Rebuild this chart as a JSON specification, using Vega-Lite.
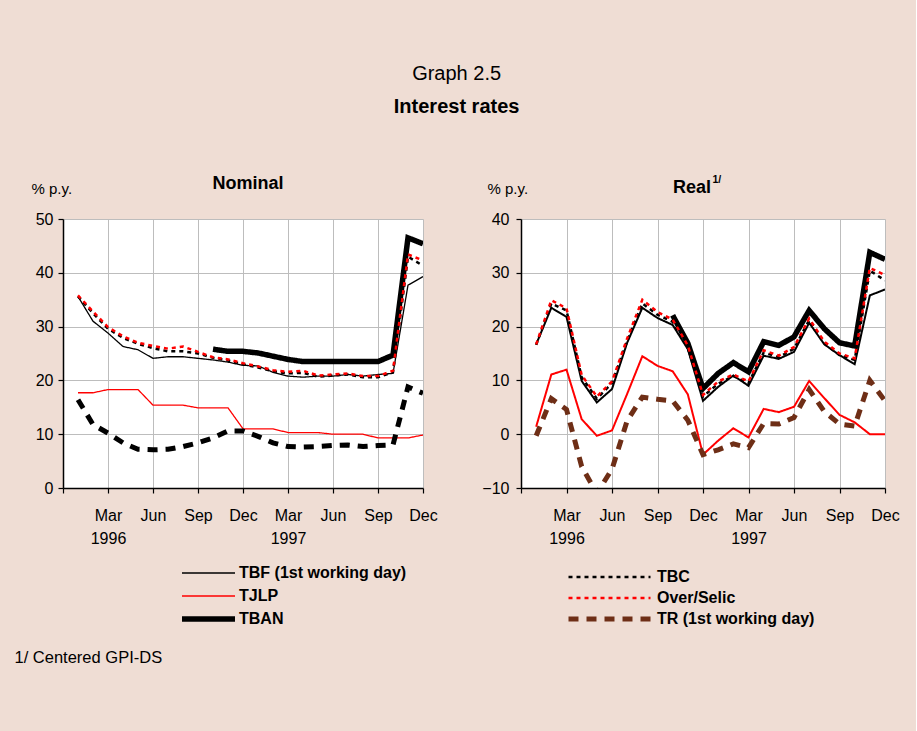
{
  "$schema": "https://vega.github.io/schema/vega-lite/v6.json",
  "background": "#EFDDD4",
  "padding": {"left": 14, "top": 64, "right": 16, "bottom": 67},
  "title": {
    "text": "Graph 2.5",
    "subtitle": "Interest rates",
    "fontSize": 20,
    "fontWeight": "normal",
    "subtitleFontSize": 20,
    "subtitleFontWeight": "bold",
    "subtitleColor": "black",
    "subtitleFont": "Liberation Sans",
    "subtitlePadding": 13,
    "anchor": "middle",
    "offset": 57
  },
  "datasets": {
    "nominal": [
      {"m": 1, "TBF (1st working day)": 35.6, "TJLP": 17.7, "TBAN": null, "TBC": 35.6, "Over/Selic": 35.8, "TR (1st working day)": 16.4},
      {"m": 2, "TBF (1st working day)": 31.0, "TJLP": 17.7, "TBAN": null, "TBC": 32.5, "Over/Selic": 32.8, "TR (1st working day)": 11.8},
      {"m": 3, "TBF (1st working day)": 28.8, "TJLP": 18.3, "TBAN": null, "TBC": 29.6, "Over/Selic": 29.9, "TR (1st working day)": 10.2},
      {"m": 4, "TBF (1st working day)": 26.3, "TJLP": 18.3, "TBAN": null, "TBC": 27.9, "Over/Selic": 28.2, "TR (1st working day)": 8.4},
      {"m": 5, "TBF (1st working day)": 25.7, "TJLP": 18.3, "TBAN": null, "TBC": 26.8, "Over/Selic": 27.0, "TR (1st working day)": 7.2},
      {"m": 6, "TBF (1st working day)": 24.1, "TJLP": 15.4, "TBAN": null, "TBC": 26.0, "Over/Selic": 26.4, "TR (1st working day)": 7.1},
      {"m": 7, "TBF (1st working day)": 24.4, "TJLP": 15.4, "TBAN": null, "TBC": 25.4, "Over/Selic": 25.9, "TR (1st working day)": 7.2},
      {"m": 8, "TBF (1st working day)": 24.4, "TJLP": 15.4, "TBAN": null, "TBC": 25.4, "Over/Selic": 26.3, "TR (1st working day)": 7.7},
      {"m": 9, "TBF (1st working day)": 24.1, "TJLP": 14.9, "TBAN": null, "TBC": 25.0, "Over/Selic": 25.3, "TR (1st working day)": 8.4},
      {"m": 10, "TBF (1st working day)": 23.8, "TJLP": 14.9, "TBAN": 25.8, "TBC": 24.2, "Over/Selic": 24.3, "TR (1st working day)": 9.3},
      {"m": 11, "TBF (1st working day)": 23.4, "TJLP": 14.9, "TBAN": 25.4, "TBC": 23.7, "Over/Selic": 23.9, "TR (1st working day)": 10.6},
      {"m": 12, "TBF (1st working day)": 22.8, "TJLP": 11.0, "TBAN": 25.4, "TBC": 23.0, "Over/Selic": 23.2, "TR (1st working day)": 10.6},
      {"m": 13, "TBF (1st working day)": 22.7, "TJLP": 11.0, "TBAN": 25.1, "TBC": 22.4, "Over/Selic": 22.6, "TR (1st working day)": 9.6},
      {"m": 14, "TBF (1st working day)": 21.5, "TJLP": 11.0, "TBAN": 24.5, "TBC": 21.7, "Over/Selic": 21.9, "TR (1st working day)": 8.4},
      {"m": 15, "TBF (1st working day)": 20.8, "TJLP": 10.3, "TBAN": 23.9, "TBC": 21.3, "Over/Selic": 21.6, "TR (1st working day)": 7.7},
      {"m": 16, "TBF (1st working day)": 20.6, "TJLP": 10.3, "TBAN": 23.5, "TBC": 21.4, "Over/Selic": 21.8, "TR (1st working day)": 7.6},
      {"m": 17, "TBF (1st working day)": 20.8, "TJLP": 10.3, "TBAN": 23.5, "TBC": 20.7, "Over/Selic": 20.9, "TR (1st working day)": 7.7},
      {"m": 18, "TBF (1st working day)": 20.8, "TJLP": 10.0, "TBAN": 23.5, "TBC": 20.9, "Over/Selic": 21.1, "TR (1st working day)": 7.9},
      {"m": 19, "TBF (1st working day)": 21.1, "TJLP": 10.0, "TBAN": 23.5, "TBC": 21.1, "Over/Selic": 21.3, "TR (1st working day)": 8.0},
      {"m": 20, "TBF (1st working day)": 20.8, "TJLP": 10.0, "TBAN": 23.5, "TBC": 20.6, "Over/Selic": 20.8, "TR (1st working day)": 7.7},
      {"m": 21, "TBF (1st working day)": 21.1, "TJLP": 9.3, "TBAN": 23.5, "TBC": 20.6, "Over/Selic": 20.8, "TR (1st working day)": 7.9},
      {"m": 22, "TBF (1st working day)": 21.3, "TJLP": 9.3, "TBAN": 24.7, "TBC": 21.5, "Over/Selic": 21.8, "TR (1st working day)": 8.0},
      {"m": 23, "TBF (1st working day)": 37.7, "TJLP": 9.3, "TBAN": 46.5, "TBC": 43.0, "Over/Selic": 43.4, "TR (1st working day)": 18.8},
      {"m": 24, "TBF (1st working day)": 39.3, "TJLP": 9.85, "TBAN": 45.4, "TBC": 41.3, "Over/Selic": 42.3, "TR (1st working day)": 17.6}
    ],
    "real": [
      {"m": 1, "TBF (1st working day)": 16.7, "TJLP": 1.4, "TBAN": null, "TBC": 16.6, "Over/Selic": 16.7, "TR (1st working day)": -0.3},
      {"m": 2, "TBF (1st working day)": 23.5, "TJLP": 11.1, "TBAN": null, "TBC": 24.3, "Over/Selic": 24.9, "TR (1st working day)": 6.6},
      {"m": 3, "TBF (1st working day)": 21.8, "TJLP": 12.0, "TBAN": null, "TBC": 23.0, "Over/Selic": 23.4, "TR (1st working day)": 4.6},
      {"m": 4, "TBF (1st working day)": 9.9, "TJLP": 2.8, "TBAN": null, "TBC": 10.6, "Over/Selic": 11.0, "TR (1st working day)": -6.0},
      {"m": 5, "TBF (1st working day)": 5.9, "TJLP": -0.3, "TBAN": null, "TBC": 6.6, "Over/Selic": 7.0, "TR (1st working day)": -11.0},
      {"m": 6, "TBF (1st working day)": 8.4, "TJLP": 0.7, "TBAN": null, "TBC": 9.5, "Over/Selic": 9.8, "TR (1st working day)": -6.5},
      {"m": 7, "TBF (1st working day)": 17.0, "TJLP": 7.5, "TBAN": null, "TBC": 17.3, "Over/Selic": 17.8, "TR (1st working day)": 2.5},
      {"m": 8, "TBF (1st working day)": 23.5, "TJLP": 14.5, "TBAN": null, "TBC": 24.3, "Over/Selic": 25.0, "TR (1st working day)": 6.9},
      {"m": 9, "TBF (1st working day)": 21.6, "TJLP": 12.7, "TBAN": null, "TBC": 22.2, "Over/Selic": 22.7, "TR (1st working day)": 6.5},
      {"m": 10, "TBF (1st working day)": 20.3, "TJLP": 11.7, "TBAN": 22.1, "TBC": 20.9, "Over/Selic": 21.3, "TR (1st working day)": 6.2},
      {"m": 11, "TBF (1st working day)": 15.8, "TJLP": 7.4, "TBAN": 16.9, "TBC": 16.1, "Over/Selic": 16.5, "TR (1st working day)": 2.6},
      {"m": 12, "TBF (1st working day)": 6.2, "TJLP": -3.8, "TBAN": 8.5, "TBC": 7.0, "Over/Selic": 7.3, "TR (1st working day)": -3.8},
      {"m": 13, "TBF (1st working day)": 8.8, "TJLP": -1.2, "TBAN": 11.3, "TBC": 9.4, "Over/Selic": 9.8, "TR (1st working day)": -2.9},
      {"m": 14, "TBF (1st working day)": 10.9, "TJLP": 1.1, "TBAN": 13.3, "TBC": 10.8, "Over/Selic": 11.1, "TR (1st working day)": -1.8},
      {"m": 15, "TBF (1st working day)": 9.0, "TJLP": -0.6, "TBAN": 11.6, "TBC": 9.5, "Over/Selic": 9.8, "TR (1st working day)": -2.5},
      {"m": 16, "TBF (1st working day)": 14.6, "TJLP": 4.7, "TBAN": 17.2, "TBC": 15.2, "Over/Selic": 15.6, "TR (1st working day)": 2.0},
      {"m": 17, "TBF (1st working day)": 14.0, "TJLP": 4.1, "TBAN": 16.5, "TBC": 14.3, "Over/Selic": 14.6, "TR (1st working day)": 1.9},
      {"m": 18, "TBF (1st working day)": 15.3, "TJLP": 5.1, "TBAN": 18.1, "TBC": 15.9, "Over/Selic": 16.2, "TR (1st working day)": 3.1},
      {"m": 19, "TBF (1st working day)": 20.7, "TJLP": 9.9, "TBAN": 23.0, "TBC": 21.2, "Over/Selic": 21.5, "TR (1st working day)": 8.3},
      {"m": 20, "TBF (1st working day)": 16.7, "TJLP": 6.7, "TBAN": 19.6, "TBC": 16.9, "Over/Selic": 17.2, "TR (1st working day)": 4.2},
      {"m": 21, "TBF (1st working day)": 14.7, "TJLP": 3.6, "TBAN": 17.0, "TBC": 14.7, "Over/Selic": 15.0, "TR (1st working day)": 1.9},
      {"m": 22, "TBF (1st working day)": 13.0, "TJLP": 2.2, "TBAN": 16.4, "TBC": 13.8, "Over/Selic": 14.1, "TR (1st working day)": 1.5},
      {"m": 23, "TBF (1st working day)": 25.8, "TJLP": 0.0, "TBAN": 33.8, "TBC": 30.4, "Over/Selic": 30.9, "TR (1st working day)": 10.0},
      {"m": 24, "TBF (1st working day)": 26.9, "TJLP": 0.0, "TBAN": 32.5, "TBC": 28.6, "Over/Selic": 29.6, "TR (1st working day)": 6.2}
    ]
  },
  "spacing": 43,
  "resolve": {"scale": {"color": "independent", "strokeDash": "independent", "strokeWidth": "independent", "y": "independent"}, "legend": {"color": "independent", "strokeDash": "independent", "strokeWidth": "independent"}},
  "hconcat": [
    {
      "width": 360,
      "height": 269,
      "data": {"name": "nominal"},
      "transform": [{"fold": ["TBF (1st working day)", "TJLP", "TBAN", "TBC", "Over/Selic", "TR (1st working day)"], "as": ["series", "value"]}],
      "title": {"text": "Nominal", "fontSize": 18, "fontWeight": "bold", "offset": -12, "anchor": "middle", "dx": 5},
      "mark": {"type": "line", "clip": true},
      "encoding": {
        "x": {
          "field": "m", "type": "quantitative",
          "scale": {"domain": [0, 24], "nice": false, "zero": false},
          "axis": {
            "values": [0, 3, 6, 9, 12, 15, 18, 21, 24],
            "grid": true,
            "labelFlush": false,
            "labelOverlap": false,
            "labelPadding": 14,
            "labelLineHeight": 23,
            "labelExpr": "datum.value == 0 ? '' : datum.value == 3 ? ['Mar', '1996'] : datum.value == 15 ? ['Mar', '1997'] : ['Dec', 'Mar', 'Jun', 'Sep'][(datum.value / 3) % 4]",
            "title": "1/ Centered GPI-DS",
            "titleX": -49,
            "titleY": 169,
            "titleAlign": "left",
            "titleAnchor": "start",
            "titleBaseline": "middle",
            "titleFontSize": 16.5
          }
        },
        "y": {
          "field": "value", "type": "quantitative",
          "scale": {"domain": [0, 50], "nice": false},
          "axis": {
            "values": [0, 10, 20, 30, 40, 50],
            "grid": true,
            "labelPadding": 5,
            "title": "% p.y.",
            "titleAngle": 0,
            "titleX": -32,
            "titleY": -31,
            "titleAlign": "left",
            "titleBaseline": "middle",
            "titleFontSize": 15
          }
        },
        "color": {
          "field": "series", "type": "nominal",
          "scale": {"domain": ["TBF (1st working day)", "TJLP", "TBAN", "TBC", "Over/Selic", "TR (1st working day)"], "range": ["#000000", "#FF0000", "#000000", "#000000", "#FF0000", "#000000"]},
          "legend": {"values": ["TBF (1st working day)", "TJLP", "TBAN"], "orient": "none", "legendX": 116, "legendY": 344, "title": null, "symbolType": "stroke", "symbolSize": 2809, "clipHeight": 20, "rowPadding": 3, "labelOffset": 1, "labelLimit": 300}
        },
        "strokeDash": {
          "field": "series", "type": "nominal",
          "scale": {"domain": ["TBF (1st working day)", "TJLP", "TBAN", "TBC", "Over/Selic", "TR (1st working day)"], "range": [[1, 0], [1, 0], [1, 0], [4, 4], [4, 4], [10, 8]]},
          "legend": {"values": ["TBF (1st working day)", "TJLP", "TBAN"], "orient": "none", "legendX": 116, "legendY": 344, "title": null, "symbolType": "stroke", "symbolSize": 2809, "clipHeight": 20, "rowPadding": 3, "labelOffset": 1, "labelLimit": 300}
        },
        "strokeWidth": {
          "field": "series", "type": "nominal",
          "scale": {"type": "ordinal", "domain": ["TBF (1st working day)", "TJLP", "TBAN", "TBC", "Over/Selic", "TR (1st working day)"], "range": [1.3, 1.3, 5.5, 2.5, 2.5, 5]},
          "legend": {"values": ["TBF (1st working day)", "TJLP", "TBAN"], "orient": "none", "legendX": 116, "legendY": 344, "title": null, "symbolType": "stroke", "symbolSize": 2809, "clipHeight": 20, "rowPadding": 3, "labelOffset": 1, "labelLimit": 300}
        }
      }
    },
    {
      "width": 364,
      "height": 269,
      "data": {"name": "real"},
      "transform": [{"fold": ["TBF (1st working day)", "TJLP", "TBAN", "TBC", "Over/Selic", "TR (1st working day)"], "as": ["series", "value"]}],
      "title": {"text": "Real", "fontSize": 18, "fontWeight": "bold", "offset": -23, "anchor": "middle", "dx": -11},
      "mark": {"type": "line", "clip": true},
      "encoding": {
        "x": {
          "field": "m", "type": "quantitative",
          "scale": {"domain": [0, 24], "nice": false, "zero": false},
          "axis": {
            "values": [0, 3, 6, 9, 12, 15, 18, 21, 24],
            "grid": true,
            "labelFlush": false,
            "labelOverlap": false,
            "labelPadding": 14,
            "labelLineHeight": 23,
            "labelExpr": "datum.value == 0 ? '' : datum.value == 3 ? ['Mar', '1996'] : datum.value == 15 ? ['Mar', '1997'] : ['Dec', 'Mar', 'Jun', 'Sep'][(datum.value / 3) % 4]",
            "title": "1/",
            "titleX": 191,
            "titleY": -309,
            "titleAlign": "left",
            "titleAnchor": "start",
            "titleBaseline": "middle",
            "titleFontSize": 10.5,
            "titleFontWeight": "bold"
          }
        },
        "y": {
          "field": "value", "type": "quantitative",
          "scale": {"domain": [-10, 40], "nice": false},
          "axis": {
            "values": [-10, 0, 10, 20, 30, 40],
            "grid": true,
            "labelPadding": 7,
            "title": "% p.y.",
            "titleAngle": 0,
            "titleX": -34,
            "titleY": -31,
            "titleAlign": "left",
            "titleBaseline": "middle",
            "titleFontSize": 15
          }
        },
        "color": {
          "field": "series", "type": "nominal",
          "scale": {"domain": ["TBF (1st working day)", "TJLP", "TBAN", "TBC", "Over/Selic", "TR (1st working day)"], "range": ["#000000", "#FF0000", "#000000", "#000000", "#FF0000", "#6E2E16"]},
          "legend": {"values": ["TBC", "Over/Selic", "TR (1st working day)"], "orient": "none", "legendX": 45, "legendY": 348, "title": null, "symbolType": "stroke", "symbolSize": 6724, "clipHeight": 20, "rowPadding": 1, "labelOffset": 4, "labelLimit": 300}
        },
        "strokeDash": {
          "field": "series", "type": "nominal",
          "scale": {"domain": ["TBF (1st working day)", "TJLP", "TBAN", "TBC", "Over/Selic", "TR (1st working day)"], "range": [[1, 0], [1, 0], [1, 0], [4, 4], [4, 4], [10, 8]]},
          "legend": {"values": ["TBC", "Over/Selic", "TR (1st working day)"], "orient": "none", "legendX": 45, "legendY": 348, "title": null, "symbolType": "stroke", "symbolSize": 6724, "clipHeight": 20, "rowPadding": 1, "labelOffset": 4, "labelLimit": 300}
        },
        "strokeWidth": {
          "field": "series", "type": "nominal",
          "scale": {"type": "ordinal", "domain": ["TBF (1st working day)", "TJLP", "TBAN", "TBC", "Over/Selic", "TR (1st working day)"], "range": [2, 2, 5.5, 2.5, 2.5, 5]},
          "legend": {"values": ["TBC", "Over/Selic", "TR (1st working day)"], "orient": "none", "legendX": 45, "legendY": 348, "title": null, "symbolType": "stroke", "symbolSize": 6724, "clipHeight": 20, "rowPadding": 1, "labelOffset": 4, "labelLimit": 300}
        }
      }
    }
  ],
  "config": {
    "font": "Liberation Sans",
    "view": {"fill": "white", "stroke": null},
    "title": {"font": "Liberation Sans", "color": "black", "subtitleColor": "black"},
    "axis": {
      "labelFont": "Liberation Sans", "labelColor": "black", "labelFontSize": 16,
      "domainColor": "black", "domainWidth": 1.5,
      "tickColor": "black", "tickWidth": 1.2, "tickSize": 5,
      "gridColor": "#BDBDBD", "gridWidth": 1,
      "titleFont": "Liberation Sans", "titleColor": "black", "titleFontWeight": "normal"
    },
    "legend": {
      "labelFont": "Liberation Sans", "labelFontSize": 16, "labelFontWeight": "bold", "labelColor": "black", "padding": 0
    }
  }
}
